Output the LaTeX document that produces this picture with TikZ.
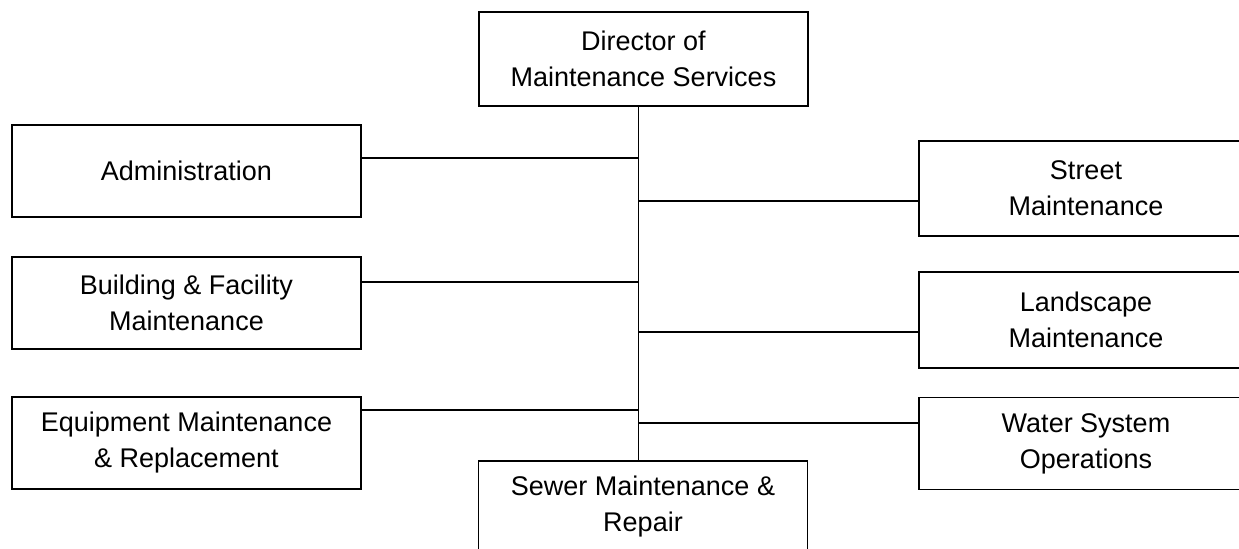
\documentclass[tikz,border=0pt]{standalone}
\usepackage{fontspec}
\setmainfont{Liberation Sans}
\usetikzlibrary{positioning}

\begin{document}
\begin{tikzpicture}[x=0.5pt,y=-0.5pt,
  unit/.style={draw, line width=0.9pt, align=center, inner sep=0pt,
    minimum width=174.5pt, minimum height=46pt,
    font=\fontsize{13.5}{18}\selectfont},
  link/.style={line width=0.8pt}]

\clip (0,0) rectangle (1239,548);

%draw the boxes
\node[unit, minimum width=164.5pt, minimum height=47pt] (dir) at (643.5,59) {Director of\\Maintenance Services};
\node[unit] (adm) at (186.5,171) {Administration};
\node[unit] (bld) at (186.5,303) {Building \& Facility\\Maintenance};
\node[unit] (eqp) at (186.5,443) {Equipment Maintenance\\\& Replacement};
\node[unit, minimum width=167pt, minimum height=47.5pt] (str) at (1086,188.5) {Street\\Maintenance};
\node[unit, minimum width=167pt, minimum height=48pt] (lnd) at (1086,320) {Landscape\\Maintenance};
\node[unit, minimum width=167pt] (wat) at (1086,443.5) {Water System\\Operations};
\node[unit, minimum width=164.5pt] (sew) at (643,507) {Sewer Maintenance \&\\Repair};

%spine and the points where the branches meet it
\coordinate (sp) at ([xshift=-2.5pt]dir.south);
\draw[link] (sp) -- (sp |- sew.north);
\coordinate (ja) at (639,158);
\coordinate (jb) at (639,282);
\coordinate (je) at (639,410);
\coordinate (js) at (639,201);
\coordinate (jl) at (639,332);
\coordinate (jw) at (639,423);

%branches
\draw[link] (ja) -- (ja -| adm.east);
\draw[link] (jb) -- (jb -| bld.east);
\draw[link] (je) -- (je -| eqp.east);
\draw[link] (js) -- (js -| str.west);
\draw[link] (jl) -- (jl -| lnd.west);
\draw[link] (jw) -- (jw -| wat.west);

\end{tikzpicture}
\end{document}
